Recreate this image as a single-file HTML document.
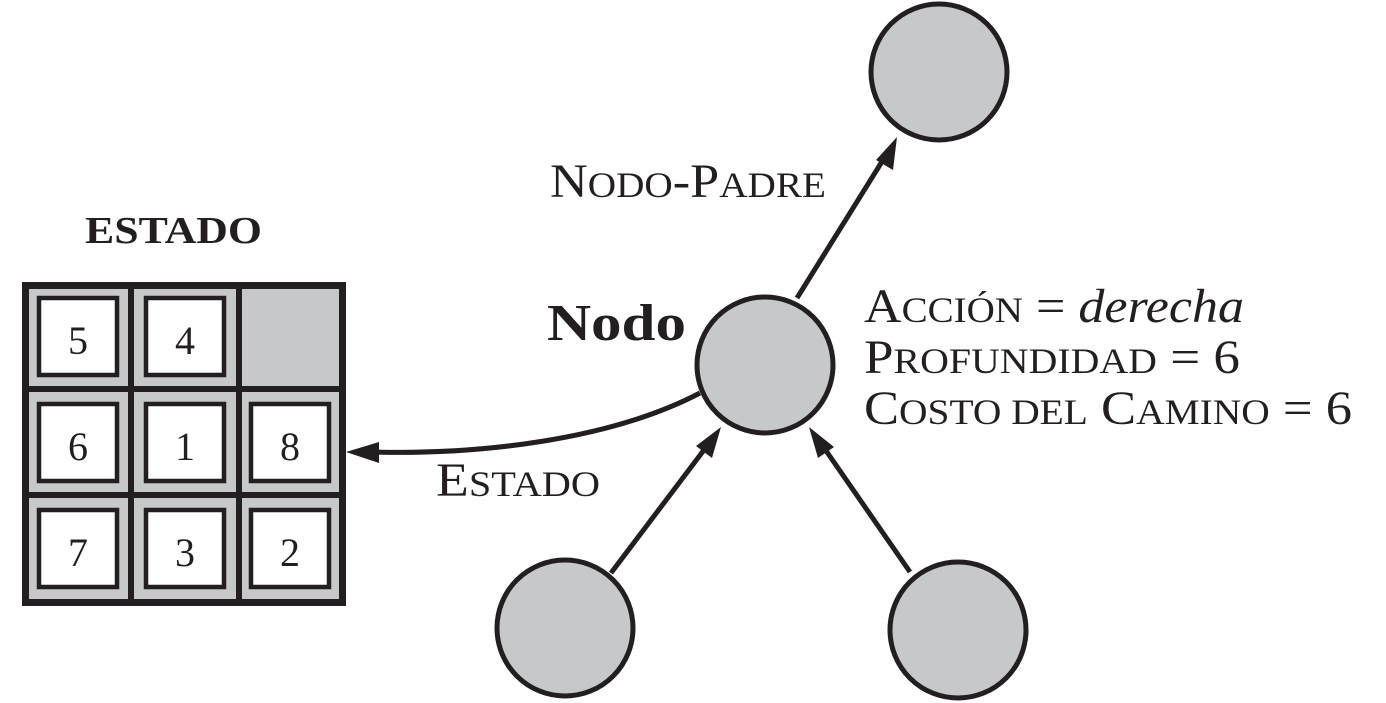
<!DOCTYPE html>
<html><head><meta charset="utf-8"><style>html,body{margin:0;padding:0;background:#fff}svg{display:block}text{font-family:"Liberation Serif","Times New Roman",serif}</style></head>
<body>
<svg width="1386" height="703" viewBox="0 0 1386 703" xmlns="http://www.w3.org/2000/svg" fill="#231f20">
<rect x="22" y="282" width="324" height="324" fill="#231f20"/>
<g fill="#c7c8ca">
<rect x="29" y="289" width="99" height="97"/><rect x="134" y="289" width="102" height="97"/><rect x="242" y="289" width="97" height="97"/>
<rect x="29" y="392" width="99" height="100"/><rect x="134" y="392" width="102" height="100"/><rect x="242" y="392" width="97" height="100"/>
<rect x="29" y="498" width="99" height="101"/><rect x="134" y="498" width="102" height="101"/><rect x="242" y="498" width="97" height="101"/>
</g>
<g fill="#fff" stroke="#231f20" stroke-width="4.5">
<rect x="39" y="298" width="78" height="77"/><rect x="146" y="298" width="78" height="77"/>
<rect x="39" y="404" width="78" height="77"/><rect x="146" y="404" width="78" height="77"/><rect x="251" y="404" width="78" height="77"/>
<rect x="39" y="510" width="78" height="77"/><rect x="146" y="510" width="78" height="77"/><rect x="251" y="510" width="78" height="77"/>
</g>
<g font-size="40" text-anchor="middle">
<text x="78" y="354">5</text><text x="185" y="354">4</text>
<text x="78" y="460">6</text><text x="185" y="460">1</text><text x="290" y="460">8</text>
<text x="78" y="566">7</text><text x="185" y="566">3</text><text x="290" y="566">2</text>
</g>
<text x="85" y="243" font-size="38" font-weight="bold" textLength="177" lengthAdjust="spacingAndGlyphs">ESTADO</text>
<g stroke="#231f20" stroke-width="5" fill="none">
<path d="M700 393 C 610 440, 480 455, 370 452"/>
<line x1="611" y1="573" x2="710" y2="442"/>
<line x1="910" y1="572" x2="820" y2="442"/>
<line x1="797" y1="298" x2="888" y2="152"/>
</g>
<g fill="#231f20">
<polygon points="346,452 379,442 379,463"/>
<polygon points="721,427 712,458 696,446"/>
<polygon points="809,427 834,447 818,458"/>
<polygon points="897,137 893,170 876,160"/>
</g>
<g fill="#c7c8ca" stroke="#231f20" stroke-width="5">
<circle cx="939" cy="72" r="68"/>
<circle cx="765" cy="365" r="68"/>
<circle cx="565" cy="628" r="68"/>
<circle cx="958" cy="630" r="68"/>
</g>
<text x="547" y="340" font-size="52" font-weight="bold" textLength="139" lengthAdjust="spacingAndGlyphs">Nodo</text>
<g font-size="48">
<text x="550" y="197" textLength="276" lengthAdjust="spacingAndGlyphs">N<tspan font-size="36">ODO</tspan>-P<tspan font-size="36">ADRE</tspan></text>
<text x="436" y="496" textLength="164" lengthAdjust="spacingAndGlyphs">E<tspan font-size="36">STADO</tspan></text>
<text x="864" y="322" textLength="380" lengthAdjust="spacingAndGlyphs">A<tspan font-size="36">CCIÓN</tspan> = <tspan font-style="italic">derecha</tspan></text>
<text x="864" y="373" textLength="376" lengthAdjust="spacingAndGlyphs">P<tspan font-size="36">ROFUNDIDAD</tspan> = 6</text>
<text x="864" y="424" textLength="488" lengthAdjust="spacingAndGlyphs">C<tspan font-size="36">OSTO DEL</tspan> C<tspan font-size="36">AMINO</tspan> = 6</text>
</g>
</svg>
</body></html>
